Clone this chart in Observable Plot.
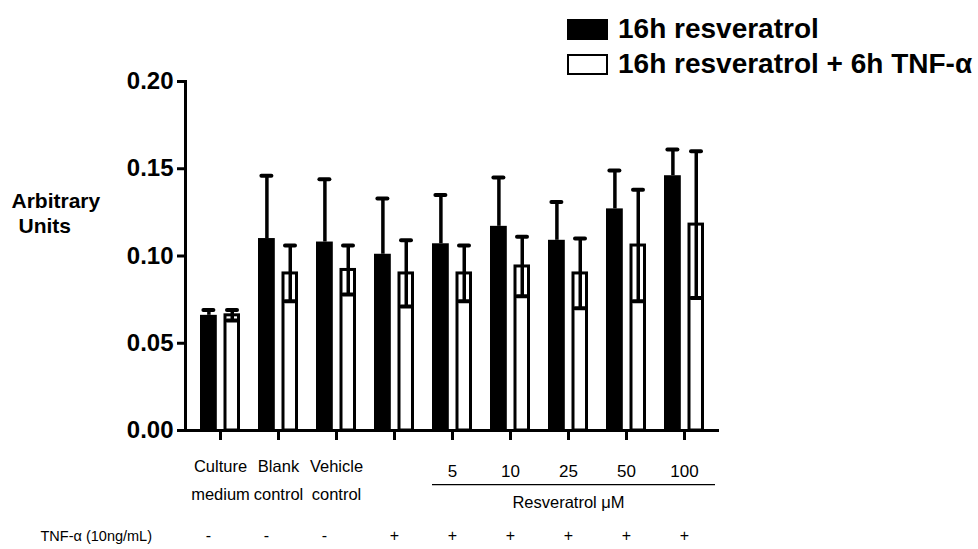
<!DOCTYPE html>
<html><head><meta charset="utf-8">
<script src="https://cdn.jsdelivr.net/npm/d3@7"></script>
<script src="https://cdn.jsdelivr.net/npm/@observablehq/plot@0.6"></script>
<style>
body{margin:0;background:#fff;}
#wrap{position:relative;width:978px;height:549px;font-family:"Liberation Sans",Arial,sans-serif;background:#fff;}
.box{position:absolute;left:567px;width:41px;height:21px;box-sizing:border-box;}
.ltxt{position:absolute;left:618px;font-weight:bold;font-size:28px;line-height:32px;color:#000;white-space:nowrap;}
</style>
</head><body>
<div id="wrap">
  <div class="box" style="top:19px;background:#000;"></div>
  <div class="ltxt" style="top:13px;">16h resveratrol</div>
  <div class="box" style="top:54px;background:#fff;border:2px solid #000;"></div>
  <div class="ltxt" style="top:48px;">16h resveratrol + 6h TNF-α</div>
</div>
<script>
const groups = ["Culture medium", "Blank control", "Vehicle control", "TNF-α", "5", "10", "25", "50", "100"];
const labelLine1 = ["Culture", "Blank", "Vehicle", "", "", "", "", "", ""];
const labelLine2 = ["medium", "control", "control", "", "", "", "", "", ""];
const doseLabels = ["", "", "", "", "5", "10", "25", "50", "100"];
const tnfSigns = ["-", "-", "-", "+", "+", "+", "+", "+", "+"];
const resveratrolMean = [0.066, 0.110, 0.108, 0.101, 0.107, 0.117, 0.109, 0.127, 0.146];
const resveratrolErr  = [0.003, 0.036, 0.036, 0.032, 0.028, 0.028, 0.022, 0.022, 0.015];
const tnfMean = [0.066, 0.090, 0.092, 0.090, 0.090, 0.094, 0.090, 0.106, 0.118];
const tnfErr  = [0.003, 0.016, 0.014, 0.019, 0.016, 0.017, 0.020, 0.032, 0.042];
const yTicks = [0, 0.05, 0.10, 0.15, 0.20];
const doseRange = ["5", "100"];
const doseBracketY = -0.031;

const rows = groups.map((g, i) => ({
  g, l1: labelLine1[i], l2: labelLine2[i], dose: doseLabels[i], sign: tnfSigns[i],
  bm: resveratrolMean[i], be: resveratrolErr[i], tm: tnfMean[i], te: tnfErr[i]
}));
const minusRows = rows.filter(d => d.sign === "-");
const plusRows = rows.filter(d => d.sign === "+");

const font = '"Liberation Sans", Arial, sans-serif';

const chart = Plot.plot({
  width: 978, height: 549,
  marginLeft: 185, marginRight: 259, marginTop: 81, marginBottom: 119,
  style: {fontFamily: font, color: "#000", background: "transparent", overflow: "visible"},
  x: {domain: groups, paddingInner: 0.31, paddingOuter: 0.196, axis: null},
  y: {domain: [0, 0.2], axis: null},
  marks: [
    Plot.barY(rows, {x: "g", y: "bm", fill: "#000", insetRight: 23.2}),
    Plot.ruleX(rows, {x: "g", y1: "bm", y2: d => d.bm + d.be, dx: -11.6, stroke: "#000", strokeWidth: 3.5}),
    Plot.tickY(rows, {x: "g", y: d => d.bm + d.be, insetLeft: 3.4, insetRight: 26.6, stroke: "#000", strokeWidth: 4, strokeLinecap: "round"}),
    Plot.barY(rows, {x: "g", y: "tm", fill: "#fff", stroke: "#000", strokeWidth: 3, insetLeft: 25, insetRight: 1.5}),
    Plot.ruleX(rows, {x: "g", y1: d => d.tm - d.te, y2: d => d.tm + d.te, dx: 11.75, stroke: "#000", strokeWidth: 3.5}),
    Plot.tickY(rows, {x: "g", y: d => d.tm + d.te, insetLeft: 27, insetRight: 3, stroke: "#000", strokeWidth: 4, strokeLinecap: "round"}),
    Plot.tickY(rows, {x: "g", y: d => d.tm - d.te, insetLeft: 27, insetRight: 3, stroke: "#000", strokeWidth: 4, strokeLinecap: "round"}),
    Plot.frame({anchor: "left", stroke: "#000", strokeWidth: 3}),
    Plot.ruleY([0], {stroke: "#000", strokeWidth: 3, insetLeft: -1.5}),
    Plot.axisY({ticks: yTicks, tickFormat: ".2f", tickSize: 8, tickPadding: 4, strokeWidth: 3, fontSize: 24, fontWeight: "bold", label: null}),
    Plot.axisX({tickSize: 10, strokeWidth: 3, tickFormat: () => "", label: null}),
    Plot.text(rows, {x: "g", text: "l1", frameAnchor: "bottom", dy: 41, fontSize: 16.5}),
    Plot.text(rows, {x: "g", text: "l2", frameAnchor: "bottom", dy: 69, fontSize: 16.5}),
    Plot.text(rows, {x: "g", text: "dose", frameAnchor: "bottom", dy: 46, fontSize: 17}),
    Plot.ruleY([doseBracketY], {x1: () => doseRange[0], x2: () => doseRange[1], stroke: "#000", strokeWidth: 1.2, insetRight: -11}),
    Plot.text(["Resveratrol μM"], {x: () => "25", frameAnchor: "bottom", dy: 77, fontSize: 16.5}),
    Plot.text(minusRows, {x: "g", text: "sign", frameAnchor: "bottom", dx: -12, dy: 110, fontSize: 16}),
    Plot.text(plusRows, {x: "g", text: "sign", frameAnchor: "bottom", dy: 110, fontSize: 16}),
    Plot.text(["TNF-α (10ng/mL)"], {frameAnchor: "bottom-left", textAnchor: "start", dx: -145, dy: 110, fontSize: 14.5}),
    Plot.text(["Arbitrary"], {frameAnchor: "top-left", textAnchor: "start", dx: -174, dy: 112, fontSize: 21, fontWeight: "bold"}),
    Plot.text(["Units"], {frameAnchor: "top-left", textAnchor: "start", dx: -167, dy: 137, fontSize: 21, fontWeight: "bold"})
  ]
});
chart.style.position = "absolute";
chart.style.left = "0px";
chart.style.top = "0px";
document.getElementById("wrap").prepend(chart);
</script>
</body></html>
